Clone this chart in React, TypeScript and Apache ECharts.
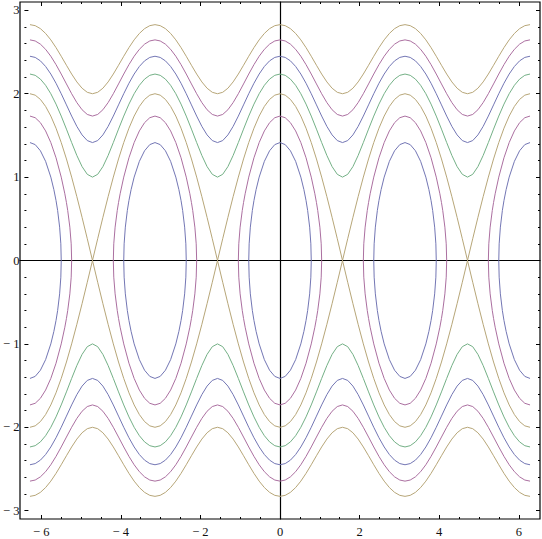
import React, { useEffect, useRef } from "react";
import * as echarts from "echarts";

// Half-period sample abscissae (0 .. π/2) for the open curves
const profileX = [0, 0.1309, 0.2618, 0.3927, 0.5236, 0.6545, 0.7854, 0.9163, 1.0472, 1.1781, 1.309, 1.4399, 1.5708];

// Open curves (upper branch, mirrored below), read at profileX
const open4 = [2.8284, 2.8163, 2.7807, 2.7229, 2.6458, 2.553, 2.4495, 2.3414, 2.2361, 2.1414, 2.0659, 2.017, 2.0];
const open3 = [2.6458, 2.6328, 2.5946, 2.5326, 2.4495, 2.349, 2.2361, 2.1172, 2.0, 1.8936, 1.8078, 1.7516, 1.7321];
const open2 = [2.4495, 2.4355, 2.3942, 2.3269, 2.2361, 2.1255, 2.0, 1.8661, 1.7321, 1.608, 1.506, 1.4381, 1.4142];
const open1 = [2.2361, 2.2208, 2.1753, 2.101, 2.0, 1.8755, 1.7321, 1.5756, 1.4142, 1.2593, 1.126, 1.0335, 1.0];
const open0 = [2.0, 1.9829, 1.9319, 1.8478, 1.7321, 1.5867, 1.4142, 1.2175, 1.0, 0.7654, 0.5176, 0.2611, 0.0];

// Closed orbits: quarter arc (from top to right end), x offset from centre, y
const orbitOuterX = [0, 0.1309, 0.2618, 0.3927, 0.5236, 0.6545, 0.7854, 0.8759, 0.9163, 0.9482, 1.0021, 1.0358, 1.0472];
const orbitOuterY = [1.7321, 1.7123, 1.6529, 1.5538, 1.4142, 1.2319, 1.0, 0.8, 0.6945, 0.6, 0.4, 0.2, 0.0];
const orbitInnerX = [0, 0.1309, 0.2618, 0.3927, 0.5236, 0.6004, 0.6545, 0.6949, 0.7453, 0.7755, 0.7854];
const orbitInnerY = [1.4142, 1.3899, 1.3161, 1.1892, 1.0, 0.85, 0.7195, 0.6, 0.4, 0.2, 0.0];

const orbitCentres = [-2 * Math.PI, -Math.PI, 0, Math.PI, 2 * Math.PI];
const xTickLabels = ["− 6", "− 4", "− 2", "0", "2", "4", "6"];
const yTickLabels = ["− 3", "− 2", "− 1", "0", "1", "2", "3"];

const GOLD = "#b7a678";
const PURPLE = "#ab6fa0";
const BLUE = "#7376b4";
const GREEN = "#74b086";

const PERIOD = Math.PI;
const XLIM = 2 * Math.PI;

function openCurve(profile: number[], sign: number): number[][] {
  const period: number[][] = [];
  for (let k = 0; k < profileX.length; k++) period.push([profileX[k], profile[k]]);
  for (let k = profileX.length - 2; k >= 0; k--) period.push([PERIOD - profileX[k], profile[k]]);
  const pts: number[][] = [];
  for (let n = -2; n <= 1; n++) {
    period.forEach((p, i) => {
      if (n > -2 && i === 0) return;
      pts.push([n * PERIOD + p[0], sign * p[1]]);
    });
  }
  return pts;
}

function orbitCurve(qx: number[], qy: number[], c: number): number[][] {
  const right: number[][] = [];
  for (let k = 0; k < qx.length; k++) right.push([c + qx[k], qy[k]]);
  for (let k = qx.length - 2; k >= 0; k--) right.push([c + qx[k], -qy[k]]);
  const left: number[][] = [];
  for (let k = 1; k < qx.length; k++) left.push([c - qx[k], -qy[k]]);
  for (let k = qx.length - 2; k >= 0; k--) left.push([c - qx[k], qy[k]]);
  if (c <= -XLIM + 1e-9) return right;
  if (c >= XLIM - 1e-9) {
    return [[c, -qy[0]], ...left];
  }
  return [...right, ...left];
}

export default function App() {
  const ref = useRef<HTMLDivElement>(null);
  useEffect(() => {
    if (!ref.current) return;
    const chart = echarts.init(ref.current, undefined, { renderer: "svg" });
    const series: any[] = [];
    const addLine = (data: number[][], color: string) =>
      series.push({
        type: "line",
        xAxisIndex: 0,
        yAxisIndex: 0,
        data,
        showSymbol: false,
        symbol: "none",
        silent: true,
        clip: true,
        lineStyle: { width: 1, color },
      });
    const opens: [number[], string][] = [
      [open4, GOLD],
      [open3, PURPLE],
      [open2, BLUE],
      [open1, GREEN],
      [open0, GOLD],
    ];
    opens.forEach(([p, col]) => {
      addLine(openCurve(p, 1), col);
      addLine(openCurve(p, -1), col);
    });
    orbitCentres.forEach((c) => {
      addLine(orbitCurve(orbitOuterX, orbitOuterY, c), PURPLE);
      addLine(orbitCurve(orbitInnerX, orbitInnerY, c), BLUE);
    });

    const labelFont = { fontFamily: "Liberation Serif", fontSize: 12.5, color: "#111" };
    const tickStyle = { color: "#000", width: 1 };

    chart.setOption({
      animation: false,
      grid: [
        { left: 20, right: 2, top: 2, bottom: 20, show: true, borderColor: "#000", borderWidth: 1.2, backgroundColor: "transparent" },
        { left: 41.25, right: 23.25, top: 2, bottom: 20, show: false },
        { left: 20, right: 2, top: 10.33, bottom: 28.33, show: false },
      ],
      xAxis: [
        {
          gridIndex: 0, type: "value", min: -6.534, max: 6.534,
          axisLine: { show: true, onZero: true, lineStyle: { color: "#000", width: 1.2 } },
          axisTick: { show: false }, axisLabel: { show: false }, splitLine: { show: false },
        },
        {
          gridIndex: 1, type: "value", position: "bottom", min: -6, max: 6, interval: 2,
          axisLine: { show: false, onZero: false },
          axisTick: { show: true, inside: true, length: 4, lineStyle: tickStyle },
          minorTick: { show: true, splitNumber: 4, length: 2, lineStyle: tickStyle },
          axisLabel: { show: true, margin: 6, ...labelFont, formatter: (v: number) => xTickLabels[Math.round((v + 6) / 2)] },
          splitLine: { show: false },
        },
        {
          gridIndex: 1, type: "value", position: "top", min: -6, max: 6, interval: 2,
          axisLine: { show: false, onZero: false },
          axisTick: { show: true, inside: true, length: 4, lineStyle: tickStyle },
          minorTick: { show: true, splitNumber: 4, length: 2, lineStyle: tickStyle },
          axisLabel: { show: false },
          splitLine: { show: false },
        },
        { gridIndex: 2, type: "value", show: false, min: 0, max: 1 },
      ],
      yAxis: [
        {
          gridIndex: 0, type: "value", min: -3.1, max: 3.1,
          axisLine: { show: true, onZero: true, lineStyle: { color: "#000", width: 1.2 } },
          axisTick: { show: false }, axisLabel: { show: false }, splitLine: { show: false },
        },
        { gridIndex: 1, type: "value", show: false, min: 0, max: 1 },
        {
          gridIndex: 2, type: "value", position: "left", min: -3, max: 3, interval: 1,
          axisLine: { show: false, onZero: false },
          axisTick: { show: true, inside: true, length: 4, lineStyle: tickStyle },
          minorTick: { show: true, splitNumber: 5, length: 2, lineStyle: tickStyle },
          axisLabel: { show: true, margin: 5, ...labelFont, formatter: (v: number) => yTickLabels[Math.round(v + 3)] },
          splitLine: { show: false },
        },
        {
          gridIndex: 2, type: "value", position: "right", min: -3, max: 3, interval: 1,
          axisLine: { show: false, onZero: false },
          axisTick: { show: true, inside: true, length: 4, lineStyle: tickStyle },
          minorTick: { show: true, splitNumber: 5, length: 2, lineStyle: tickStyle },
          axisLabel: { show: false },
          splitLine: { show: false },
        },
      ],
      series,
    });
    return () => chart.dispose();
  }, []);
  return <div ref={ref} style={{ width: 542, height: 539, position: "absolute", left: 0, top: 0 }} />;
}
